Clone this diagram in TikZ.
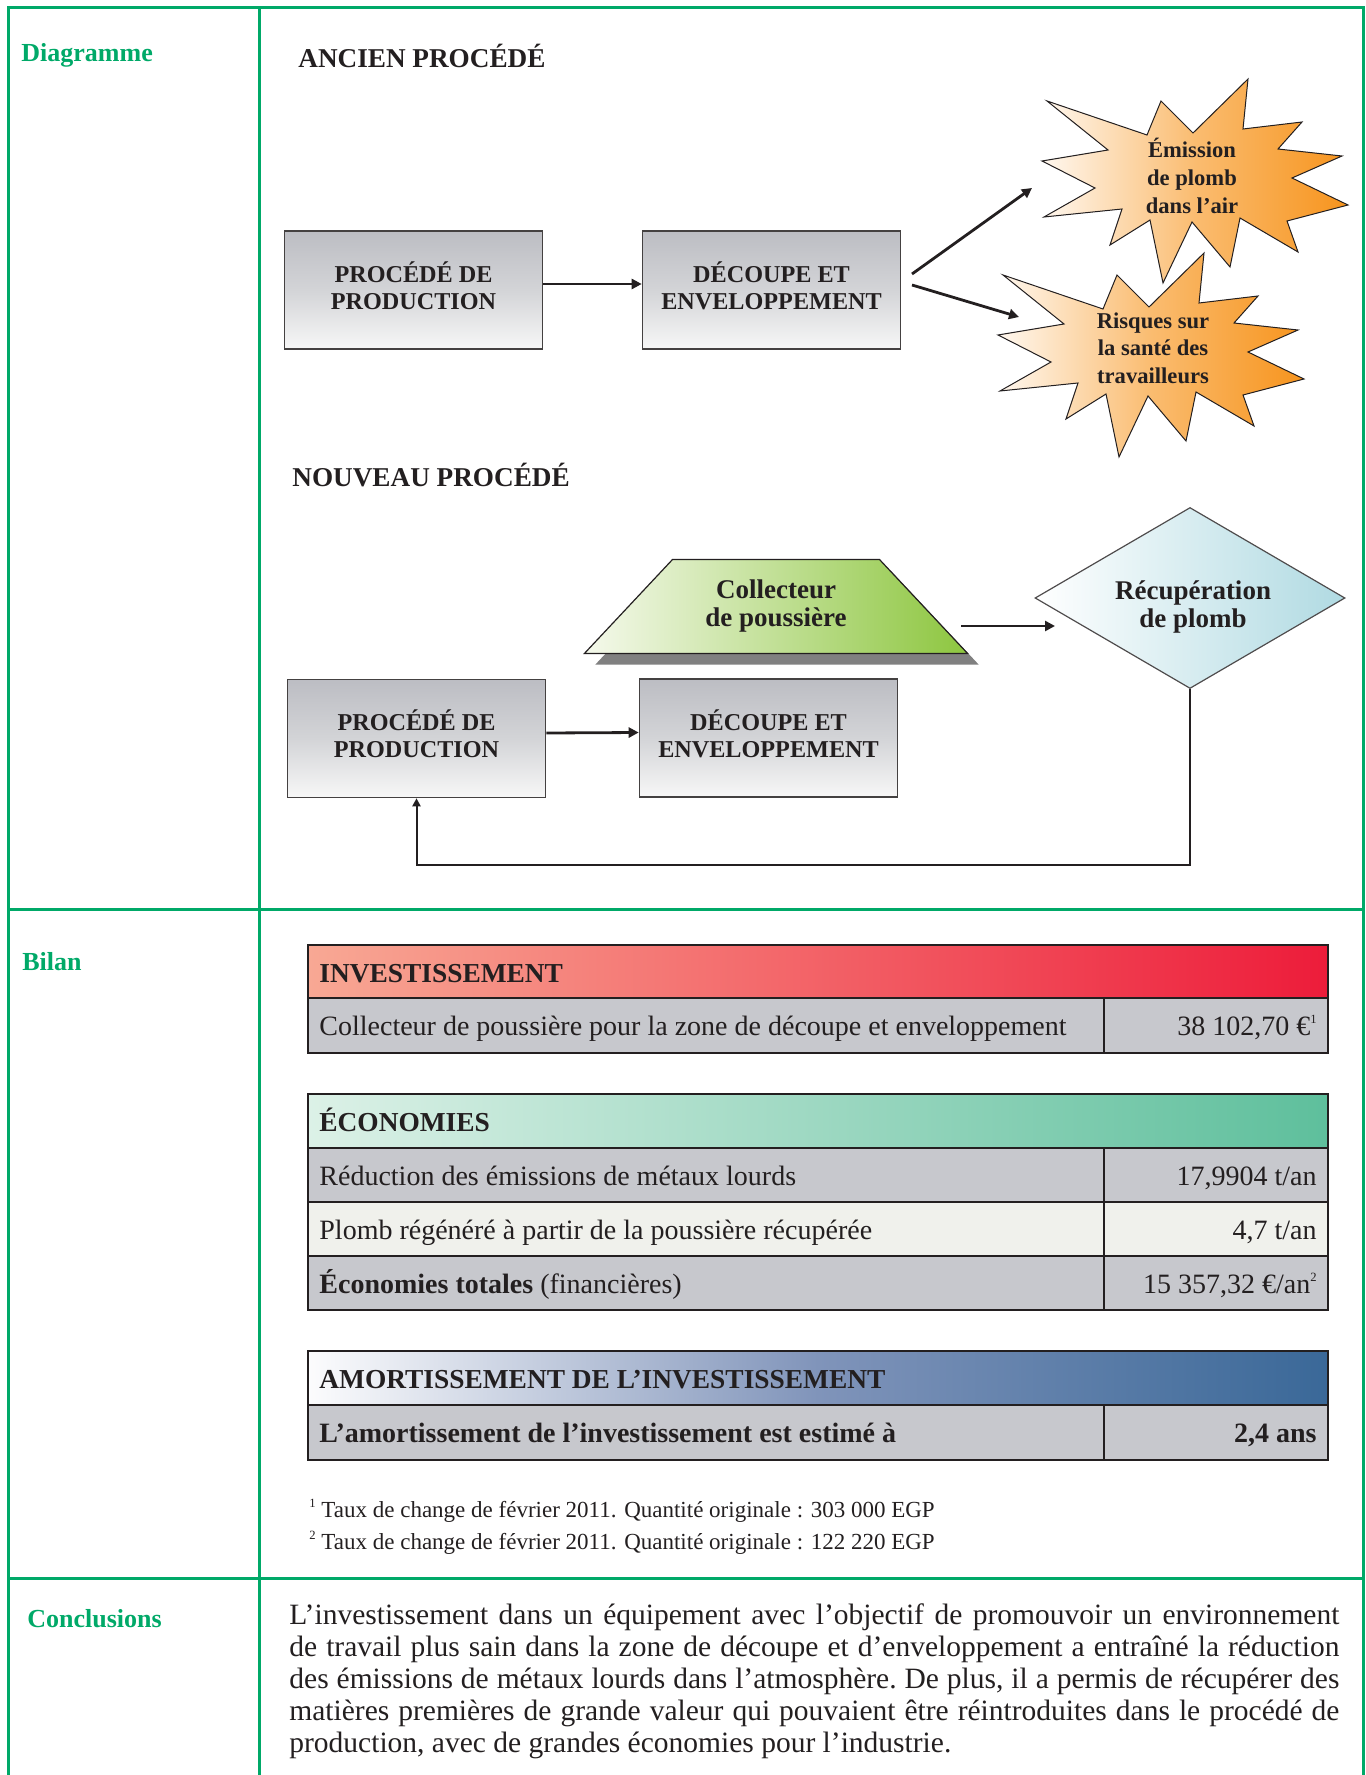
\documentclass[tikz,border=0pt]{standalone}
\usepackage{fontspec}
\setmainfont{Liberation Serif}
\usetikzlibrary{arrows.meta,shapes.geometric,shadows}

\definecolor{framegreen}{RGB}{0,169,104}
\definecolor{inkdark}{RGB}{35,31,32}
\definecolor{boxtop}{RGB}{188,189,195}
\definecolor{boxmid}{RGB}{211,212,215}
\definecolor{boxbot}{RGB}{247,247,247}
\definecolor{burstlight}{RGB}{255,248,240}
\definecolor{burstmid}{RGB}{250,188,112}
\definecolor{burstorange}{RGB}{247,148,29}
\definecolor{collgreen}{RGB}{141,198,63}
\definecolor{collgreenlight}{RGB}{245,249,236}
\definecolor{recupblue}{RGB}{176,218,226}
\definecolor{shadowgray}{RGB}{128,128,128}
\definecolor{rowgray}{RGB}{199,200,205}
\definecolor{rowlight}{RGB}{240,241,236}
\definecolor{invlight}{RGB}{248,168,148}
\definecolor{invred}{RGB}{237,28,58}
\definecolor{ecolight}{RGB}{220,241,231}
\definecolor{ecogreen}{RGB}{94,191,156}
\definecolor{amolight}{RGB}{252,252,253}
\definecolor{amomid}{RGB}{128,148,186}
\definecolor{amoblue}{RGB}{58,104,152}

\newcommand{\supnum}[1]{\raisebox{0.42em}{\fontsize{6.3}{7}\selectfont #1}}
\newcommand{\lowstrut}{\rule[-4.5pt]{0pt}{4.5pt}}
\newcommand{\highstrut}{\rule{0pt}{18.5pt}}

\tikzset{
  frameline/.style={framegreen, line width=1.5pt},
  sectlabel/.style={anchor=base west, inner sep=0pt, text=framegreen, font=\fontsize{13}{15}\selectfont\bfseries},
  proctitle/.style={anchor=base west, inner sep=0pt, text=inkdark, font=\fontsize{13.6}{15}\selectfont\bfseries},
  procbox/.style={draw=inkdark!85, line width=0.8pt, top color=boxtop, bottom color=boxbot, middle color=boxmid,
    minimum width=129pt, minimum height=59pt, align=center, text=inkdark, font=\fontsize{12.1}{13.5}\selectfont\bfseries},
  flow/.style={-{Triangle[length=5pt,width=5pt]}, line width=1.4pt, inkdark},
  feedback/.style={-{Triangle[length=4pt,width=4pt]}, line width=1pt, inkdark},
  burst/.style={draw=inkdark, line width=0.5pt, left color=burstlight, right color=burstorange, middle color=burstmid},
  bursttext/.style={align=center, inner sep=0pt, text=inkdark, font=\fontsize{11.3}{13.8}\selectfont\bfseries},
  collector/.style={trapezium, trapezium angle=45, trapezium stretches=true, minimum width=192pt, minimum height=47pt,
    draw=inkdark, line width=0.6pt, left color=collgreenlight, right color=collgreen, align=center, text=inkdark,
    font=\fontsize{13.5}{14}\selectfont\bfseries,
    drop shadow={shadow xshift=5.5pt, shadow yshift=-5.5pt, fill=shadowgray, opacity=1}},
  recovery/.style={diamond, shape aspect=1.71, minimum width=155pt, minimum height=90.5pt, inner sep=0.5pt,
    draw=inkdark!80, line width=0.6pt, left color=white, right color=recupblue, align=center, text=inkdark,
    font=\fontsize{13.5}{14}\selectfont\bfseries},
  cell/.style={draw=inkdark, line width=1.2pt},
  colline/.style={inkdark, line width=0.8pt},
  hdrtext/.style={anchor=base west, inner sep=0pt, text=inkdark, font=\fontsize{13.7}{16}\selectfont\bfseries},
  celltext/.style={anchor=base west, inner sep=0pt, text=inkdark, font=\fontsize{14}{16}\selectfont},
  cellvalue/.style={anchor=base east, inner sep=0pt, text=inkdark, font=\fontsize{14}{16}\selectfont},
  note/.style={anchor=base west, inner sep=0pt, text=inkdark, font=\fontsize{11.5}{13}\selectfont}
}

\begin{document}
\begin{tikzpicture}[x=0.5pt, y=-0.5pt]
\useasboundingbox (0,0) rectangle (1365,1775);
% cadre
\draw[frameline] (8,1775) -- (8,8) -- (1363,8) -- (1363,1775);
\draw[frameline] (259,8) -- (259,1775);
\draw[frameline] (8,909) -- (1363,909);
\draw[frameline] (8,1578) -- (1363,1578);
\node[sectlabel] (lab-diag) at (21,62) {Diagramme};
\node[sectlabel] (lab-bilan) at (22,970) {Bilan};
\node[sectlabel] (lab-concl) at (27,1627) {Conclusions};

% ancien procede
\node[proctitle] (t-old) at (298,68) {ANCIEN PROCÉDÉ};
\node[procbox] (old-prod) at (413.5,290) {PROCÉDÉ DE\\PRODUCTION\lowstrut};
\node[procbox] (old-cut) at (771.5,290) {DÉCOUPE ET\\ENVELOPPEMENT\lowstrut};
\draw[flow] ([yshift=3pt]old-prod.east) -- ([yshift=3pt]old-cut.west);
% explosions
\coordinate (emis-c) at (1192,177);
\coordinate (risk-c) at (1148,351);
\foreach \c in {emis-c,risk-c}
  \draw[burst, shift={(\c)}] (-145,-76) -- (-45,-42) -- (-31,-76) -- (1,-44) -- (56,-98) -- (51,-48)
    -- (110,-55) -- (86,-28) -- (150,-21) -- (100,1) -- (156,28) -- (95,44) -- (106,75) -- (48,41)
    -- (38,90) -- (0,45) -- (-29,106) -- (-42,43) -- (-82,68) -- (-70,32) -- (-148,40) -- (-97,11)
    -- (-150,-16) -- (-84,-27) -- cycle;
\node[bursttext] (emis) at (1192,176) {Émission\\de plomb\\dans l’air};
\node[bursttext] (risk) at (1153,348) {Risques sur\\la santé des\\travailleurs};
\coordinate (cut-out1) at (912,274);
\coordinate (emis-in) at (1032,188);
\coordinate (cut-out2) at (912,285);
\coordinate (risk-in) at (1019,317);
\draw[flow] (cut-out1) -- (emis-in);
\draw[flow] (cut-out2) -- (risk-in);

% nouveau procede
\node[proctitle] (t-new) at (292,487) {NOUVEAU PROCÉDÉ};
\node[collector] (coll) at (776,606.5) {Collecteur\\de poussière};
\node[recovery] (recup) at (1190,598) {\highstrut\hspace{3pt}Récupération\\\hspace{3pt}de plomb};
\coordinate (coll-out) at (961,626);
\coordinate (recup-in) at (1055,626);
\draw[flow] (coll-out) -- (recup-in);
\node[procbox] (new-prod) at (416.5,738.5) {PROCÉDÉ DE\\PRODUCTION\lowstrut};
\node[procbox] (new-cut) at (768.5,738) {DÉCOUPE ET\\ENVELOPPEMENT\lowstrut};
\draw[flow] ([yshift=2.75pt]new-prod.east) -- ([yshift=2.75pt]new-cut.west);
\draw[feedback] (recup.south) -- ++(0,176) -| (new-prod.south);

% investissement
\draw[cell, left color=invlight, right color=invred] (308,945) rectangle (1328,998);
\draw[cell, fill=rowgray] (308,998) rectangle (1328,1053);
\draw[colline] (1104,998) -- (1104,1053);
\node[hdrtext] (inv-h) at (319,982) {INVESTISSEMENT};
\node[celltext] (inv-1) at (319,1035) {Collecteur de poussière pour la zone de découpe et enveloppement};
\node[cellvalue] (inv-1v) at (1317,1035) {38 102,70 €\supnum{1}};

% economies
\draw[cell, left color=ecolight, right color=ecogreen] (308,1094) rectangle (1328,1148);
\draw[cell, fill=rowgray] (308,1148) rectangle (1328,1202);
\draw[cell, fill=rowlight] (308,1202) rectangle (1328,1256);
\draw[cell, fill=rowgray] (308,1256) rectangle (1328,1310);
\draw[colline] (1104,1148) -- (1104,1310);
\node[hdrtext] (eco-h) at (319,1131) {ÉCONOMIES};
\node[celltext] (eco-1) at (319,1185) {Réduction des émissions de métaux lourds};
\node[cellvalue] (eco-1v) at (1317,1185) {17,9904 t/an};
\node[celltext] (eco-2) at (319,1239) {Plomb régénéré à partir de la poussière récupérée};
\node[cellvalue] (eco-2v) at (1317,1239) {4,7 t/an};
\node[celltext] (eco-3) at (319,1293) {\textbf{Économies totales} (financières)};
\node[cellvalue] (eco-3v) at (1317,1293) {15 357,32 €/an\supnum{2}};

% amortissement
\draw[cell, left color=amolight, right color=amoblue, middle color=amomid] (308,1351) rectangle (1328,1405);
\draw[cell, fill=rowgray] (308,1405) rectangle (1328,1460);
\draw[colline] (1104,1405) -- (1104,1460);
\node[hdrtext] (amo-h) at (319,1388) {AMORTISSEMENT DE L’INVESTISSEMENT};
\node[celltext, font=\fontsize{14}{16}\selectfont\bfseries] (amo-1) at (319,1442) {L’amortissement de l’investissement est estimé à};
\node[cellvalue, font=\fontsize{14}{16}\selectfont\bfseries] (amo-1v) at (1317,1442) {2,4 ans};

% notes
\node[note] (note1) at (309,1517) {\supnum{1} Taux de change de février 2011. Quantité originale : 303 000 EGP};
\node[note] (note2) at (309,1549) {\supnum{2} Taux de change de février 2011. Quantité originale : 122 220 EGP};

% conclusions
\node[anchor=base west, inner sep=0pt, text width=525pt, align=justify, text=inkdark,
  font=\fontsize{14.75}{16}\selectfont] (concl) at (289,1624)
  {\frenchspacing\hyphenpenalty=10000 L’investissement dans un équipement avec l’objectif de promouvoir un environnement\linebreak
  de travail plus sain dans la zone de découpe et d’enveloppement a entraîné la réduction\linebreak
  des émissions de métaux lourds dans l’atmosphère. De plus, il a permis de récupérer des\linebreak
  matières premières de grande valeur qui pouvaient être réintroduites dans le procédé de\linebreak
  production, avec de grandes économies pour l’industrie.};
\end{tikzpicture}
\end{document}
